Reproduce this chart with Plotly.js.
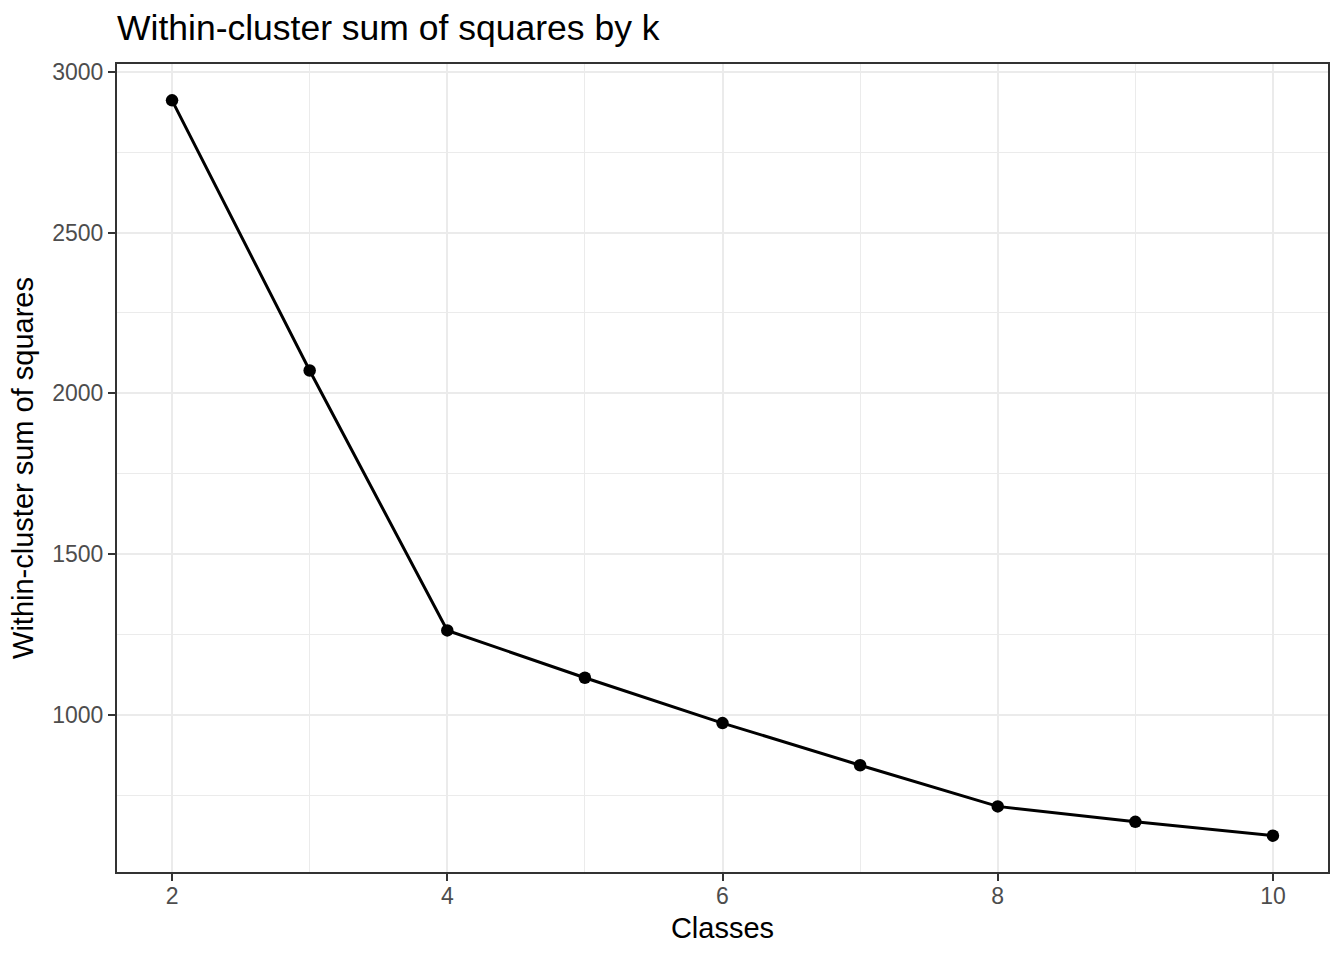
<!DOCTYPE html>
<html>
<head>
<meta charset="utf-8">
<script src="https://cdn.plot.ly/plotly-3.0.1.min.js"></script>
<style>html,body{margin:0;padding:0;background:#fff;}</style>
</head>
<body>
<div id="chart" style="width:1344px;height:960px;"></div>
<script>
const classes = [2, 3, 4, 5, 6, 7, 8, 9, 10];
const wss = [2911, 2071, 1263, 1116, 975, 844, 716, 668, 625];
const xTicks = [2, 4, 6, 8, 10];
const yTicks = [1000, 1500, 2000, 2500, 3000];

const FONT = 'Liberation Sans, Arial, sans-serif';

const trace = {
  x: classes,
  y: wss,
  type: 'scatter',
  mode: 'lines+markers',
  line: {color: '#000000', width: 3},
  marker: {color: '#000000', size: 12.5},
  hoverinfo: 'x+y',
  showlegend: false
};

const layout = {
  width: 1344,
  height: 960,
  paper_bgcolor: '#ffffff',
  plot_bgcolor: '#ffffff',
  margin: {l: 117, r: 16, t: 64, b: 88},
  font: {family: FONT, color: '#000000'},
  title: {
    text: 'Within-cluster sum of squares by k',
    font: {family: FONT, size: 35.5, color: '#000000'},
    x: 0, xref: 'paper', xanchor: 'left',
    y: 1 - 40 / 960, yref: 'container', yanchor: 'bottom'
  },
  xaxis: {
    range: [1.6, 10.4],
    tickmode: 'array',
    tickvals: xTicks,
    ticktext: xTicks.map(String),
    ticks: 'outside', ticklen: 7, tickwidth: 2, tickcolor: '#333333',
    tickfont: {family: FONT, size: 23, color: '#4D4D4D'},
    ticklabelstandoff: -5,
    showgrid: true, gridcolor: '#EBEBEB', gridwidth: 2,
    minor: {tickmode: 'array', tickvals: [3, 5, 7, 9], showgrid: true, gridcolor: '#EBEBEB', gridwidth: 1, ticks: ''},
    showline: true, mirror: true, linecolor: '#333333', linewidth: 2,
    zeroline: false,
    title: {text: 'Classes', font: {family: FONT, size: 29, color: '#000000'}, standoff: 10}
  },
  yaxis: {
    range: [512, 3024],
    tickmode: 'array',
    tickvals: yTicks,
    ticktext: yTicks.map(String),
    ticks: 'outside', ticklen: 7, tickwidth: 2, tickcolor: '#333333',
    tickfont: {family: FONT, size: 23, color: '#4D4D4D'},
    showgrid: true, gridcolor: '#EBEBEB', gridwidth: 2,
    minor: {tickmode: 'array', tickvals: [750, 1250, 1750, 2250, 2750], showgrid: true, gridcolor: '#EBEBEB', gridwidth: 1, ticks: ''},
    showline: true, mirror: true, linecolor: '#333333', linewidth: 2,
    zeroline: false,
    title: {text: 'Within-cluster sum of squares', font: {family: FONT, size: 29, color: '#000000'}, standoff: 10}
  }
};

Plotly.newPlot('chart', [trace], layout, {displayModeBar: false, staticPlot: true});
</script>
</body>
</html>
